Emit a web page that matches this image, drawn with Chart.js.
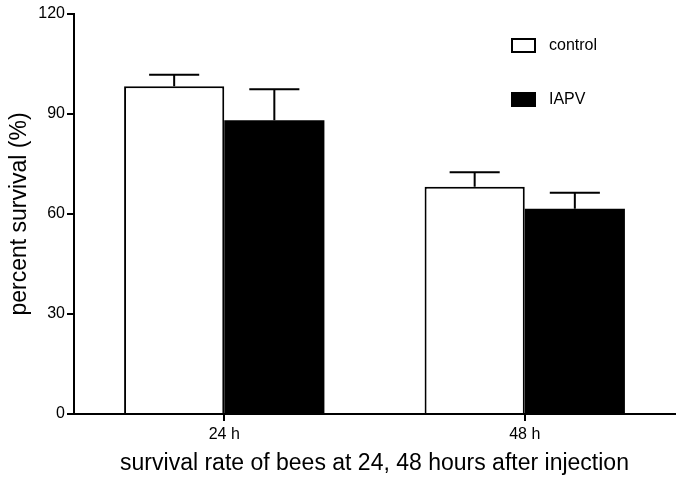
<!DOCTYPE html>
<html>
<head>
<meta charset="utf-8">
<script src="https://cdn.jsdelivr.net/npm/chart.js@4"></script>
<style>
  html, body { margin: 0; padding: 0; background: #fff; }
  #wrap { width: 683px; height: 481px; }
</style>
</head>
<body>
<div id="wrap"><canvas id="chart"></canvas></div>
<script>
// ---- data ----
const categories = ['24 h', '48 h'];
const controlValues = [98.3, 68.2];
const controlErrors = [3.5, 4.3];
const iapvValues = [88.1, 61.6];
const iapvErrors = [9.3, 4.8];
const yTicks = [0, 30, 60, 90, 120];

const FONT = "'Liberation Sans', Arial, sans-serif";

// upward-only error bars, drawn from the scales
const errorBars = {
    id: 'errorBars',
    afterDatasetsDraw(chart) {
        const ctx = chart.ctx;
        const y = chart.scales.y;
        ctx.save();
        ctx.strokeStyle = '#000';
        ctx.lineWidth = 2;
        chart.data.datasets.forEach((ds, i) => {
            const meta = chart.getDatasetMeta(i);
            meta.data.forEach((bar, j) => {
                const top = y.getPixelForValue(ds.data[j] + ds.errors[j]);
                const half = bar.width / 4;
                ctx.beginPath();
                ctx.moveTo(bar.x, bar.y);
                ctx.lineTo(bar.x, top);
                ctx.moveTo(bar.x - half, top);
                ctx.lineTo(bar.x + half, top);
                ctx.stroke();
            });
        });
        ctx.restore();
    },
};

// legend inside the plot, top right
const boxLegend = {
    id: 'boxLegend',
    afterDraw(chart) {
        const ctx = chart.ctx;
        ctx.save();
        ctx.font = '16px ' + FONT;
        ctx.textBaseline = 'middle';
        chart.data.datasets.forEach((ds, i) => {
            const cy = 45.5 + i * 54;
            ctx.fillStyle = ds.backgroundColor;
            ctx.fillRect(512, cy - 6.5, 23, 13);
            ctx.strokeStyle = '#000';
            ctx.lineWidth = 2;
            ctx.strokeRect(512, cy - 6.5, 23, 13);
            ctx.fillStyle = '#000';
            ctx.fillText(ds.label, 549, cy);
        });
        ctx.restore();
    },
};

new Chart(document.getElementById('chart'), {
    type: 'bar',
    data: {
        labels: categories,
        datasets: [
            {
                label: 'control',
                data: controlValues,
                errors: controlErrors,
                backgroundColor: '#ffffff',
                borderColor: '#000',
                borderWidth: 2,
            },
            {
                label: 'IAPV',
                data: iapvValues,
                errors: iapvErrors,
                backgroundColor: '#000000',
                borderColor: '#000',
                borderWidth: 0,
            },
        ],
    },
    options: {
        responsive: true,
        maintainAspectRatio: false,
        animation: false,
        categoryPercentage: 2 / 3,
        barPercentage: 1,
        layout: { padding: { top: 14, right: 8, left: 0, bottom: 0 } },
        plugins: {
            legend: { display: false },
            tooltip: { enabled: false },
        },
        scales: {
            x: {
                afterFit(scale) { scale.height = 67; },
                grid: {
                    offset: false,
                    drawOnChartArea: false,
                    drawTicks: true,
                    tickLength: 7,
                    color: '#000',
                    lineWidth: 2,
                },
                border: { display: true, color: '#000', width: 2 },
                ticks: { color: '#000', padding: 4, font: { family: FONT, size: 16 } },
                title: {
                    display: true,
                    text: 'survival rate of bees at 24, 48 hours after injection',
                    color: '#000',
                    font: { family: FONT, size: 23 },
                    padding: { top: 2 },
                },
            },
            y: {
                min: 0,
                max: 120,
                afterFit(scale) { scale.width = 74; },
                afterBuildTicks(scale) { scale.ticks = yTicks.map(v => ({ value: v })); },
                grid: {
                    drawOnChartArea: false,
                    drawTicks: true,
                    tickLength: 7,
                    color: '#000',
                    lineWidth: 2,
                },
                border: { display: true, color: '#000', width: 2 },
                ticks: { color: '#000', padding: 2, font: { family: FONT, size: 16 } },
                title: {
                    display: true,
                    text: 'percent survival (%)',
                    color: '#000',
                    font: { family: FONT, size: 23 },
                    padding: { top: 6, bottom: 0 },
                },
            },
        },
    },
    plugins: [errorBars, boxLegend],
});
</script>
</body>
</html>
